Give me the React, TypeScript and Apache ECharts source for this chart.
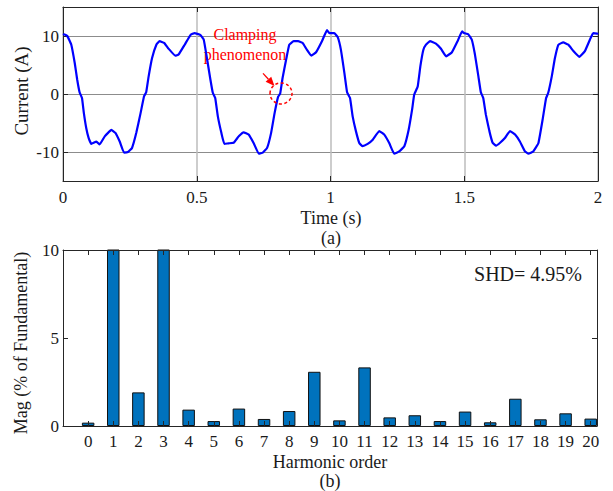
import { useEffect, useRef } from 'react';
import * as echarts from 'echarts';

// ---- (a) current waveform ----
const timeS = [
  0, 0.004, 0.016, 0.031, 0.044, 0.053, 0.062, 0.071, 0.078, 0.087, 0.096, 0.106, 0.125, 0.137, 0.156, 0.181, 0.196,
  0.212, 0.228, 0.243, 0.258, 0.274, 0.29, 0.303, 0.311, 0.32, 0.333, 0.349, 0.361, 0.378, 0.393, 0.42, 0.432, 0.455,
  0.477, 0.492,
  0.513, 0.526, 0.538, 0.551, 0.56, 0.569, 0.579, 0.592, 0.603, 0.619, 0.638, 0.657, 0.675, 0.694, 0.713, 0.732, 0.747,
  0.763, 0.778, 0.791, 0.804, 0.812, 0.821, 0.834, 0.846, 0.862, 0.879, 0.896, 0.912, 0.928, 0.946, 0.968, 0.987,
  0.996, 1.014, 1.027, 1.039, 1.052, 1.062, 1.073, 1.083, 1.095, 1.108, 1.12, 1.139, 1.158, 1.182, 1.201, 1.22, 1.238,
  1.257, 1.276, 1.292, 1.305, 1.313, 1.326, 1.336, 1.347, 1.357, 1.372, 1.394, 1.413, 1.432, 1.454, 1.475, 1.492,
  1.499, 1.515, 1.528, 1.54, 1.553, 1.562, 1.571, 1.581, 1.594, 1.606, 1.619, 1.634, 1.652, 1.671, 1.69, 1.708, 1.727,
  1.74, 1.758, 1.777, 1.793, 1.806, 1.814, 1.827, 1.839, 1.852, 1.87, 1.889, 1.908, 1.93, 1.951, 1.97, 1.982, 1.997, 2.0,
];
const currentA = [
  10.2, 10.3, 10.0, 8.5, 5.3, 2.5, 0.3, -0.7, -3.3, -5.9, -7.6, -8.6, -8.2, -8.7, -7.3, -6.2, -6.7,
  -8.2, -10.1, -10.0, -9.3, -6.7, -3.3, -0.4, 0.3, 3.0, 6.2, 8.5, 9.1, 8.8, 7.9, 6.6, 6.8, 8.5,
  10.2, 10.5,
  10.2, 9.4, 6.2, 2.5, 0.2, -0.7, -3.9, -6.7, -8.6, -8.5, -8.4, -7.3, -6.6, -7.0, -8.5, -10.3, -10.1,
  -9.3, -6.7, -3.3, -0.5, 0.1, 2.8, 5.9, 8.5, 9.1, 9.1, 8.8, 7.6, 6.6, 7.2, 9.1, 11.0,
  10.5, 10.5, 9.8, 7.6, 3.6, 0.3, -0.7, -3.9, -6.4, -8.5, -9.0, -8.6, -7.9, -6.4, -7.0, -8.5, -10.3,
  -9.9, -9.0, -6.2, -2.7, -0.1, 1.3, 4.8, 7.6, 8.5, 9.1, 8.7, 7.8, 6.5, 7.2, 9.1, 10.8,
  10.5, 10.3, 9.4, 6.8, 3.0, 0.3, -0.7, -3.6, -6.4, -8.4, -8.9, -8.4, -7.6, -6.4, -7.0, -8.2, -9.9,
  -10.3, -9.9, -8.5, -4.4, -0.7, 0.2, 3.0, 6.2, 8.5, 8.9, 8.5, 7.4, 6.4, 7.4, 9.4, 10.5, 10.4, 10.3,
];
const currentTicks = [-10, 0, 10];
const clampPoint = [0.815, 0.1];

// ---- (b) harmonic spectrum ----
const harmonicOrder = [0, 1, 2, 3, 4, 5, 6, 7, 8, 9, 10, 11, 12, 13, 14, 15, 16, 17, 18, 19, 20];
const magPct = [0.19, 100, 1.91, 25, 0.93, 0.28, 0.99, 0.4, 0.85, 3.08, 0.32, 3.33, 0.49, 0.61, 0.28, 0.82, 0.21, 1.55, 0.38, 0.72, 0.42];
const shdText = 'SHD= 4.95%';

const FONT = 'Liberation Serif';
const AX = '#262626';
const TXT = '#1a1a1a';

export default function App() {
  const ref = useRef<HTMLDivElement>(null);
  useEffect(() => {
    if (!ref.current) return;
    const chart = echarts.init(ref.current, undefined, { renderer: 'svg' });
    const axLine = { show: true, onZero: false, lineStyle: { color: AX, width: 1 } };
    const tickIn = { show: true, inside: true, length: 5, lineStyle: { color: AX, width: 1 } };
    const wave = timeS.map((t, i) => [t, currentA[i]]);
    const bars = harmonicOrder.map((h, i) => [h, magPct[i]]);

    const option: any = {
      animation: false,
      backgroundColor: '#ffffff',
      textStyle: { fontFamily: FONT },
      grid: [
        { left: 63, top: 7, width: 535, height: 174 },
        { left: 63, top: 250, width: 534, height: 176 },
      ],
      xAxis: [
        {
          gridIndex: 0, type: 'value', min: 0, max: 2, interval: 0.5, position: 'bottom',
          axisLine: axLine, axisTick: tickIn,
          axisLabel: { fontSize: 17, color: TXT, margin: 8, fontFamily: FONT },
          splitLine: { show: true, lineStyle: { color: '#bdbdbd', width: 1.5 } },
        },
        {
          gridIndex: 0, type: 'value', min: 0, max: 2, interval: 0.5, position: 'top',
          axisLine: axLine, axisTick: tickIn, axisLabel: { show: false }, splitLine: { show: false },
        },
        {
          gridIndex: 1, type: 'value', min: -1, max: 20.25, interval: 1, position: 'bottom', z: 5,
          axisLine: axLine, axisTick: tickIn,
          axisLabel: {
            fontSize: 17, color: TXT, margin: 7, fontFamily: FONT,
            formatter: (v: number) => (v >= 0 && Math.abs(v - Math.round(v)) < 1e-6 ? String(Math.round(v)) : ''),
          },
          splitLine: { show: false },
        },
        {
          gridIndex: 1, type: 'value', min: -1, max: 20.25, interval: 1, position: 'top', z: 5,
          axisLine: axLine, axisTick: tickIn, axisLabel: { show: false }, splitLine: { show: false },
        },
      ],
      yAxis: [
        {
          gridIndex: 0, type: 'value', min: -15, max: 15, position: 'left',
          axisLine: axLine,
          axisTick: { ...tickIn, customValues: currentTicks },
          axisLabel: { fontSize: 17, color: TXT, margin: 4, fontFamily: FONT, customValues: currentTicks },
          splitLine: { show: true, lineStyle: { color: '#8c8c8c', width: 1 } },
        },
        {
          gridIndex: 0, type: 'value', min: -15, max: 15, position: 'right',
          axisLine: axLine,
          axisTick: { ...tickIn, customValues: currentTicks },
          axisLabel: { show: false }, splitLine: { show: false },
        },
        {
          gridIndex: 1, type: 'value', min: 0, max: 10, interval: 5, position: 'left', z: 5,
          axisLine: axLine, axisTick: tickIn,
          axisLabel: { fontSize: 17, color: TXT, margin: 4, fontFamily: FONT },
          splitLine: { show: false },
        },
        {
          gridIndex: 1, type: 'value', min: 0, max: 10, interval: 5, position: 'right', z: 5,
          axisLine: axLine, axisTick: tickIn, axisLabel: { show: false }, splitLine: { show: false },
        },
      ],
      series: [
        {
          type: 'line', xAxisIndex: 0, yAxisIndex: 0, data: wave,
          showSymbol: false, smooth: 0.1,
          lineStyle: { color: '#0000ff', width: 2.2 }, z: 3,
        },
        {
          type: 'bar', xAxisIndex: 2, yAxisIndex: 2, data: bars, barWidth: 12.5, clip: true,
          itemStyle: { color: '#0072BD', borderColor: '#111111', borderWidth: 1 }, z: 2,
        },
      ],
    };
    chart.setOption(option);

    const c = chart.convertToPixel({ xAxisIndex: 0, yAxisIndex: 0 }, clampPoint) as number[];
    const cx = c[0];
    const cy = c[1];
    // arrow geometry relative to the circle
    const tip = [cx - 6.5, cy - 7.5];
    const start = [cx - 18, cy - 20];
    const dx = tip[0] - start[0];
    const dy = tip[1] - start[1];
    const len = Math.hypot(dx, dy);
    const ux = dx / len;
    const uy = dy / len;
    const headL = 9;
    const headW = 3.8;
    const base = [tip[0] - ux * headL, tip[1] - uy * headL];
    const px = -uy;
    const py = ux;

    const txt = (text: string, x: number, y: number, size: number, extra: any = {}) => ({
      type: 'text', x, y, ...extra,
      style: {
        text, fontFamily: FONT, fontSize: size, fill: extra.fill || TXT,
        align: extra.align || 'center', verticalAlign: 'middle',
      },
    });

    chart.setOption({
      graphic: [
        txt('Time (s)', 331, 218, 18),
        txt('(a)', 331, 238, 18),
        { ...txt('Current (A)', 21, 91, 19), rotation: Math.PI / 2 },
        txt('Harmonic order', 330, 462, 18),
        txt('(b)', 330, 481, 18),
        { ...txt('Mag (% of Fundamental)', 21, 343, 18), rotation: Math.PI / 2 },
        txt(shdText, 582, 274, 20, { align: 'right' }),
        txt('Clamping', 245, 34, 16, { fill: '#ff0000' }),
        txt('phenomenon', 245, 54, 16, { fill: '#ff0000' }),
        {
          type: 'ellipse', shape: { cx, cy, rx: 11, ry: 10.5 },
          style: { fill: 'none', stroke: '#ff0000', lineWidth: 1.5, lineDash: [3, 2.5] }, z: 10,
        },
        {
          type: 'line', shape: { x1: start[0], y1: start[1], x2: base[0], y2: base[1] },
          style: { stroke: '#ff0000', lineWidth: 1.3 }, z: 10,
        },
        {
          type: 'polygon',
          shape: {
            points: [
              tip,
              [base[0] + px * headW, base[1] + py * headW],
              [base[0] - px * headW, base[1] - py * headW],
            ],
          },
          style: { fill: '#ff0000' }, z: 10,
        },
      ],
    });

    return () => chart.dispose();
  }, []);
  return <div ref={ref} style={{ position: 'fixed', left: 0, top: 0, width: 613, height: 491 }} />;
}
